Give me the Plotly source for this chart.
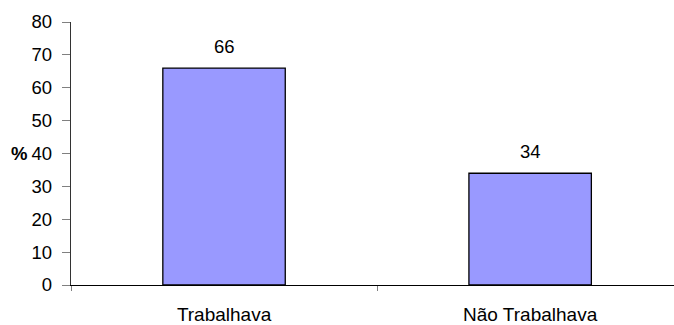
import plotly.graph_objects as go

categories = ["Trabalhava", "Não Trabalhava"]
percentages = [66, 34]
y_ticks = [0, 10, 20, 30, 40, 50, 60, 70, 80]

FONT = "Liberation Sans, Arial, sans-serif"

fig = go.Figure(
    go.Bar(
        x=categories,
        y=percentages,
        width=0.4,
        marker=dict(color="#9999FF", line=dict(color="#000000", width=1.3)),
        hoverinfo="skip",
    )
)

# value labels above each bar
for cat, val in zip(categories, percentages):
    fig.add_annotation(
        x=cat, y=val, text=str(val), showarrow=False,
        yanchor="bottom", yshift=9,
        font=dict(family=FONT, size=18.5, color="#000000"),
    )

# "%" axis label beside the 40 tick
fig.add_annotation(
    xref="paper", x=0, y=40, text="<b>%</b>", showarrow=False,
    xanchor="right", xshift=-42,
    font=dict(family=FONT, size=18.5, color="#000000"),
)

fig.update_layout(
    width=674, height=325,
    margin=dict(l=71, r=0, t=22, b=38),
    paper_bgcolor="white", plot_bgcolor="white",
    showlegend=False,
    font=dict(family=FONT, size=19, color="#000000"),
    xaxis=dict(
        type="category",
        range=[-0.5, 1.47],
        tickson="boundaries",
        ticks="outside", ticklen=5, tickcolor="#808080", tickwidth=1,
        showline=True, linecolor="#000000", linewidth=1.3,
        showgrid=False, zeroline=False,
        tickfont=dict(family=FONT, size=19),
        ticklabelstandoff=12,
    ),
    yaxis=dict(
        range=[0, 80],
        tickvals=y_ticks,
        ticks="outside", ticklen=8, tickcolor="#808080", tickwidth=1,
        showline=True, linecolor="#333333", linewidth=1.3,
        showgrid=False, zeroline=False,
        tickfont=dict(family=FONT, size=18.5),
        ticklabelstandoff=6,
    ),
)

fig.write_html("out.html")
